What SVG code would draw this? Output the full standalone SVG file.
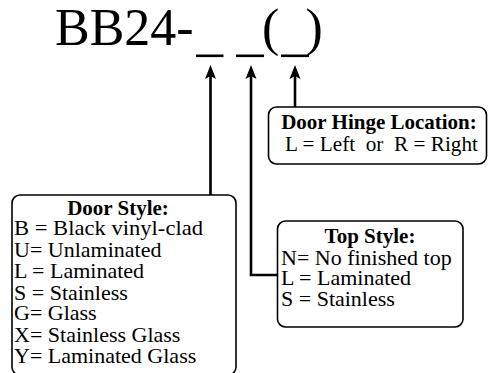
<svg xmlns="http://www.w3.org/2000/svg" width="488" height="373" viewBox="0 0 488 373" font-family="'Liberation Serif', serif">
<style>
text{font-family:"Liberation Serif",serif;fill:#000}
.title{font-size:52px}
.b{font-size:21px;font-weight:bold}
.r{font-size:22px;white-space:pre}
.box{fill:#fff;stroke:#000;stroke-width:1.6}
.c{fill:none;stroke:#000;stroke-width:2.6}
.ah{fill:#000}
</style>
<rect width="488" height="373" fill="#fff"/>
<g id="title">
<text class="title" x="55" y="45">BB24-</text>
<rect x="196" y="54.5" width="27.5" height="2.6" fill="#000"/>
<rect x="236" y="54.5" width="28" height="2.6" fill="#000"/>
<text class="title" x="262" y="45">(</text>
<rect x="281" y="54.5" width="28" height="2.6" fill="#000"/>
<text class="title" x="305.5" y="45">)</text>
</g>
<g id="connectors">
<path class="c" d="M210.5,195 V75"/>
<path class="ah" d="M210.5,65 L216,79 L210.5,76 L205,79 Z"/>
<path class="c" d="M277,275 H251 V75"/>
<path class="ah" d="M251,65 L256.5,79 L251,76 L245.5,79 Z"/>
<path class="c" d="M295,107 V75"/>
<path class="ah" d="M295,65 L300.5,79 L295,76 L289.5,79 Z"/>
</g>
<g id="hinge">
<rect class="box" x="268.5" y="107" width="218" height="57" rx="8"/>
<text class="b" x="379" y="129" text-anchor="middle">Door Hinge Location:</text>
<text class="r" x="285" y="151" textLength="193" lengthAdjust="spacingAndGlyphs">L = Left  or  R = Right</text>
</g>
<g id="doorstyle">
<rect class="box" x="12" y="195" width="224" height="180" rx="8"/>
<text class="b" x="118" y="215" text-anchor="middle">Door Style:</text>
<text class="r" x="14" y="235" textLength="189" lengthAdjust="spacingAndGlyphs">B = Black vinyl-clad</text>
<text class="r" x="14" y="257">U= Unlaminated</text>
<text class="r" x="14" y="278">L = Laminated</text>
<text class="r" x="14" y="300">S = Stainless</text>
<text class="r" x="14" y="320">G= Glass</text>
<text class="r" x="14" y="342">X= Stainless Glass</text>
<text class="r" x="14" y="363">Y= Laminated Glass</text>
</g>
<g id="topstyle">
<rect class="box" x="277.5" y="221" width="185.5" height="106" rx="8"/>
<text class="b" x="370" y="243" text-anchor="middle">Top Style:</text>
<text class="r" x="281" y="265">N= No finished top</text>
<text class="r" x="281" y="285">L = Laminated</text>
<text class="r" x="281" y="306">S = Stainless</text>
</g>
</svg>
